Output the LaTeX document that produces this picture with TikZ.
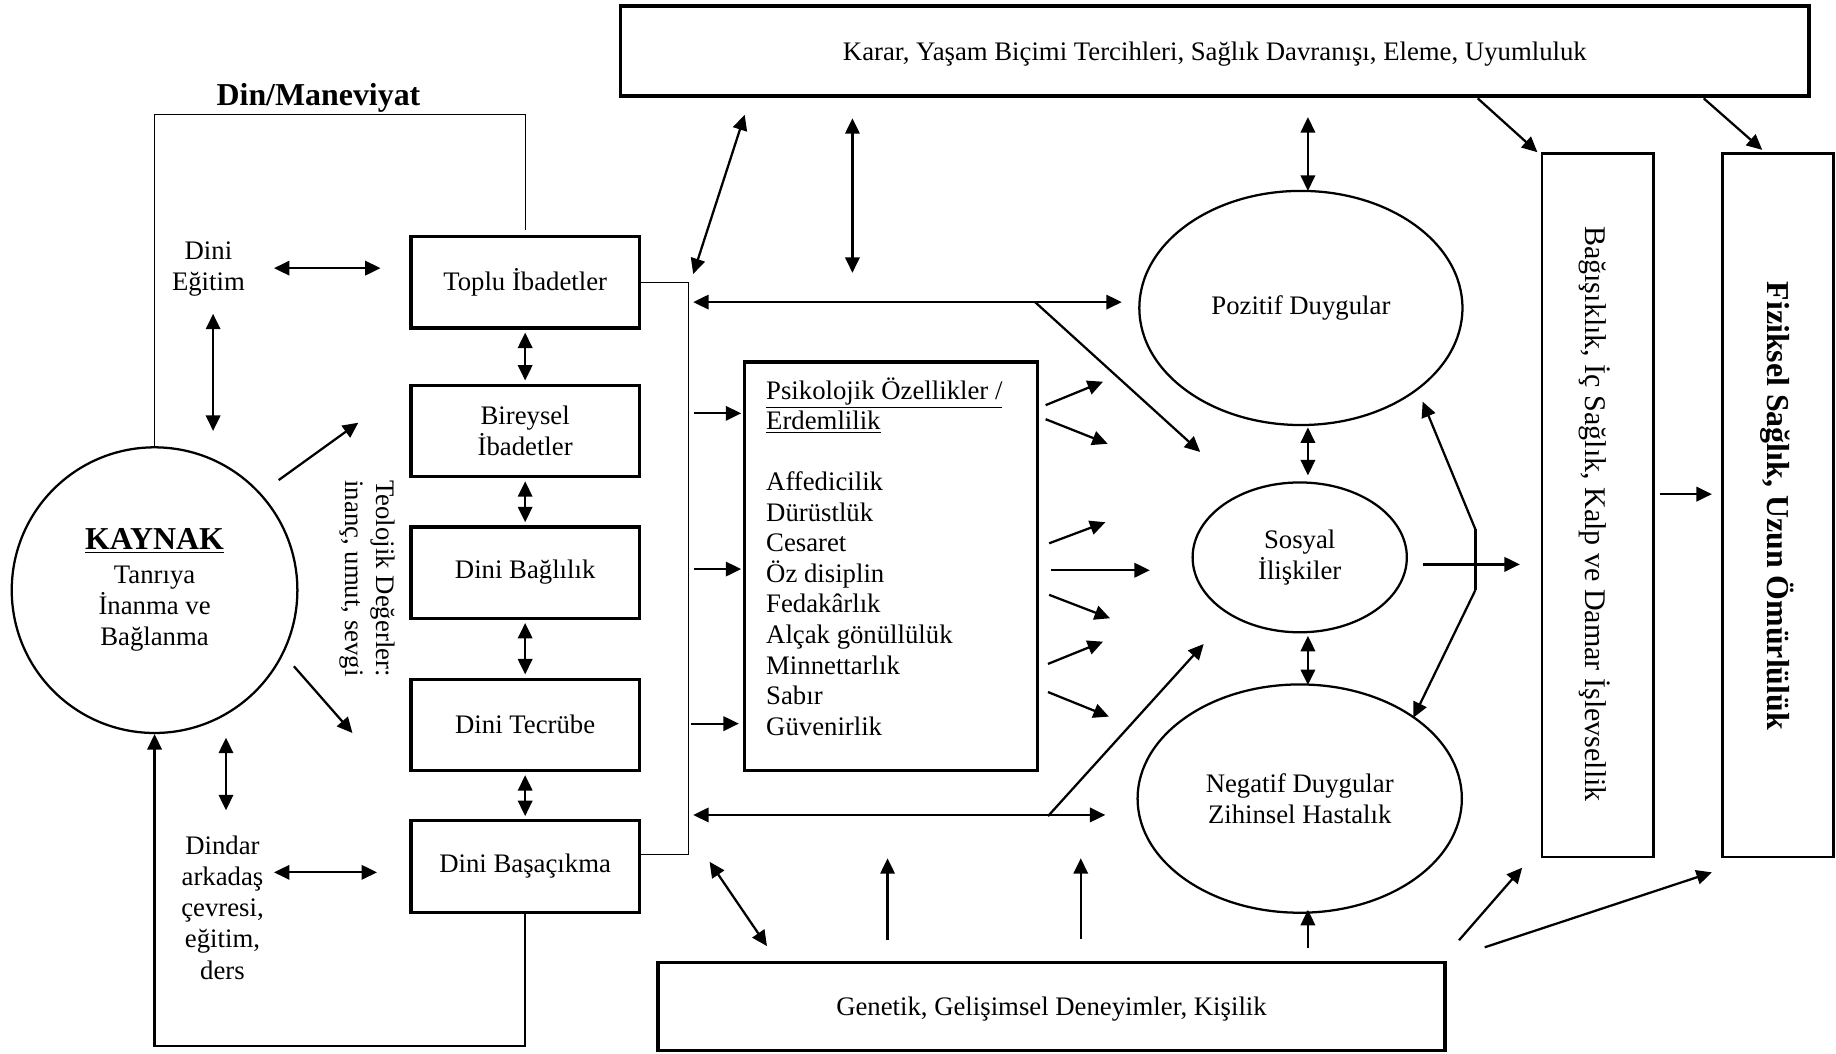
\documentclass[tikz,border=0pt]{standalone}
\usepackage{fontspec}
\setmainfont{Liberation Serif}
\usetikzlibrary{shapes.geometric,arrows.meta}
\begin{document}
\begin{tikzpicture}[x=0.02cm,y=-0.02cm, font=\fontsize{13}{15.2}\selectfont,
 bigbox/.style={draw, line width=1.6pt, rectangle, inner sep=0pt},
 tallbox/.style={draw, line width=1.2pt, rectangle, inner sep=0pt, minimum width=1.9cm, minimum height=12.02cm},
 relbox/.style={bigbox, minimum width=3.9cm, minimum height=1.56cm, align=center},
 oval/.style={draw, ellipse, line width=1.1pt, inner sep=0pt, align=center},
 conn/.style={line width=1.1pt},
 arr/.style={conn, -{Triangle[length=7.5pt,width=7pt]}},
 darr/.style={conn, {Triangle[length=7.5pt,width=7pt]}-{Triangle[length=7.5pt,width=7pt]}},
 thinline/.style={line width=0.6pt},
 lbl/.style={align=center, inner sep=0pt}
]
\useasboundingbox (0,0) rectangle (1568,900);

% ---- nodes
\node[bigbox, text depth=0pt, minimum width=20.3cm, minimum height=1.54cm] (karar) at (1037.5,43.5) {Karar, Yaşam Biçimi Tercihleri, Sağlık Davranışı, Eleme, Uyumluluk};

\node[relbox] (toplu) at (448.5,241) {Toplu İbadetler};
\node[relbox] (bireysel) at (448.5,368) {Bireysel\\İbadetler};
\node[relbox] (baglilik) at (448.5,489) {Dini Bağlılık};
\node[relbox] (tecrube) at (448.5,619) {Dini Tecrübe};
\node[relbox] (basa) at (448.5,740) {Dini Başaçıkma};

\node[draw, circle, line width=1.1pt, minimum size=4.88cm, inner sep=0pt, align=center] (kaynak) at (132,504)
  {\textbf{\fontsize{15.5}{17}\selectfont\underline{KAYNAK}}\\[1pt] Tanrıya\\İnanma ve\\Bağlanma};

\node[bigbox, minimum width=5cm, minimum height=6.98cm] (psiko) at (761,483.5) {};
\node[align=left, anchor=north west, inner sep=0pt, font=\fontsize{13}{14.85}\selectfont] (psikotxt) at (654,322)
  {\underline{Psikolojik Özellikler /}\\\underline{Erdemlilik}\\[14.85pt] Affedicilik\\Dürüstlük\\Cesaret\\Öz disiplin\\Fedakârlık\\Alçak gönüllülük\\Minnettarlık\\Sabır\\Güvenirlik};

\node[bigbox, text depth=0pt, minimum width=13.44cm, minimum height=1.5cm] (genetik) at (898,859.5) {Genetik, Gelişimsel Deneyimler, Kişilik};

\node[tallbox] (bagisik) at (1364.5,431.5) {};
\node[rotate=-90, inner sep=0pt, font=\fontsize{14.6}{17}\selectfont] (bagisiktxt) at (1362,439) {Bağışıklık, İç Sağlık, Kalp ve Damar İşlevsellik};
\node[tallbox] (fiziksel) at (1518.5,431.5) {};
\node[rotate=-90, inner sep=0pt, font=\fontsize{15.5}{18}\selectfont\bfseries] (fiziktxt) at (1518,432) {Fiziksel Sağlık, Uzun Ömürlülük};

\node[oval, minimum width=5.52cm, minimum height=4cm] (pozitif) at (1111,263) {Pozitif Duygular};
\node[oval, minimum width=3.66cm, minimum height=2.56cm] (sosyal) at (1110,476) {Sosyal\\İlişkiler};
\node[oval, minimum width=5.54cm, minimum height=3.9cm] (negatif) at (1110,682) {Negatif Duygular\\Zihinsel Hastalık};

\node[font=\fontsize{15.5}{18}\selectfont\bfseries, inner sep=0pt] (din) at (272,84) {Din/Maneviyat};
\node[lbl] (egitim) at (178,230) {Dini\\Eğitim};
\node[lbl] (dindar) at (190,775) {Dindar\\arkadaş\\çevresi,\\eğitim,\\ders};
\node[lbl, rotate=-90] (teoloji) at (314,494) {Teolojik Değerler:\\inanç, umut, sevgi};

% ---- coordinates
\coordinate (dinL) at (132,98);
\coordinate (dinR) at (449,98);
\coordinate (dinE) at (449,196);
\coordinate (fbL) at (132,893);
\coordinate (e1) at (234,229); \coordinate (e2) at (325,229);
\coordinate (e3) at (182,268); \coordinate (e4) at (182,368);
\coordinate (k1) at (238,410); \coordinate (k2) at (306,361);
\coordinate (k3) at (251,569); \coordinate (k4) at (301,626);
\coordinate (d1) at (193,630); \coordinate (d2) at (193,692);
\coordinate (d3) at (234,745); \coordinate (d4) at (322,745);
\coordinate (rb1) at (588,241); \coordinate (rb2) at (588,730);
\coordinate (pa1) at (593,353); \coordinate (pb1) at (633,353);
\coordinate (pa2) at (593,486); \coordinate (pb2) at (633,486);
\coordinate (pa3) at (590,618); \coordinate (pb3) at (631,618);
\coordinate (q1a) at (893,346); \coordinate (q1b) at (942,326);
\coordinate (q2a) at (893,358); \coordinate (q2b) at (946,379);
\coordinate (q3a) at (896,464); \coordinate (q3b) at (944,446);
\coordinate (q4a) at (898,487); \coordinate (q4b) at (982,487);
\coordinate (q5a) at (896,508); \coordinate (q5b) at (948,528);
\coordinate (q6a) at (895,567); \coordinate (q6b) at (942,548);
\coordinate (q7a) at (895,591); \coordinate (q7b) at (947,612);
\coordinate (h1) at (592,258); \coordinate (h2) at (958,258);
\coordinate (h3) at (884,258); \coordinate (h4) at (1025,386);
\coordinate (l1) at (592,696); \coordinate (l2) at (944,696);
\coordinate (l3) at (895,697); \coordinate (l4) at (1028,550);
\coordinate (t1a) at (592,234); \coordinate (t1b) at (636,98);
\coordinate (t2a) at (728,233); \coordinate (t2b) at (728,101);
\coordinate (t3a) at (1117,163); \coordinate (t3b) at (1117,100);
\coordinate (s1a) at (1117,365); \coordinate (s1b) at (1117,406);
\coordinate (s2a) at (1117,543); \coordinate (s2b) at (1117,585);
\coordinate (g1a) at (655,808); \coordinate (g1b) at (606,736);
\coordinate (g2a) at (758,803); \coordinate (g2b) at (758,733);
\coordinate (g3a) at (923,802); \coordinate (g3b) at (923,733);
\coordinate (g4a) at (1117,810); \coordinate (g4b) at (1117,777);
\coordinate (sr1) at (1215,482); \coordinate (sr2) at (1298,482);
\coordinate (bt) at (1260,452); \coordinate (bb) at (1260,504);
\coordinate (bp) at (1215,343); \coordinate (bn) at (1207,613);
\coordinate (c1a) at (1262,84); \coordinate (c1b) at (1313,130);
\coordinate (c2a) at (1455,84); \coordinate (c2b) at (1505,128);
\coordinate (m1a) at (1418,422); \coordinate (m1b) at (1462,422);
\coordinate (n1a) at (1246,803); \coordinate (n1b) at (1300,741);
\coordinate (n2a) at (1268,809); \coordinate (n2b) at (1462,745);

% ---- connectors
\draw[thinline] (kaynak.north) -- (dinL) -- (dinR) -- (dinE);
\draw[arr] (basa.south) -- (basa.south |- fbL) -- (fbL) -- (kaynak.south);

\draw[darr] (e1) -- (e2);
\draw[darr] (e3) -- (e4);
\draw[arr] (k1) -- (k2);
\draw[arr] (k3) -- (k4);
\draw[darr] (d1) -- (d2);
\draw[darr] (d3) -- (d4);

\draw[darr, shorten >=1.5pt, shorten <=1.5pt] (toplu.south) -- (bireysel.north);
\draw[darr, shorten >=1.5pt, shorten <=1.5pt] (bireysel.south) -- (baglilik.north);
\draw[darr, shorten >=1.5pt, shorten <=1.5pt] (baglilik.south) -- (tecrube.north);
\draw[darr, shorten >=1.5pt, shorten <=1.5pt] (tecrube.south) -- (basa.north);

\draw[thinline] (toplu.east) -- (rb1) -- (rb2) -- (rb2 -| basa.east);
\draw[arr] (pa1) -- (pb1);
\draw[arr] (pa2) -- (pb2);
\draw[arr] (pa3) -- (pb3);

\draw[arr] (q1a) -- (q1b);
\draw[arr] (q2a) -- (q2b);
\draw[arr] (q3a) -- (q3b);
\draw[arr] (q4a) -- (q4b);
\draw[arr] (q5a) -- (q5b);
\draw[arr] (q6a) -- (q6b);
\draw[arr] (q7a) -- (q7b);

\draw[darr] (h1) -- (h2);
\draw[arr] (h3) -- (h4);
\draw[darr] (l1) -- (l2);
\draw[arr] (l3) -- (l4);

\draw[darr] (t1a) -- (t1b);
\draw[darr] (t2a) -- (t2b);
\draw[darr] (t3a) -- (t3b);
\draw[darr] (s1a) -- (s1b);
\draw[darr] (s2a) -- (s2b);

\draw[darr] (g1a) -- (g1b);
\draw[arr] (g2a) -- (g2b);
\draw[arr] (g3a) -- (g3b);
\draw[arr] (g4a) -- (g4b);

\draw[arr] (sr1) -- (sr2);
\draw[conn] (bt) -- (bb);
\draw[arr] (bt) -- (bp);
\draw[arr] (bb) -- (bn);

\draw[arr] (c1a) -- (c1b);
\draw[arr] (c2a) -- (c2b);
\draw[arr] (m1a) -- (m1b);
\draw[arr] (n1a) -- (n1b);
\draw[arr] (n2a) -- (n2b);
\end{tikzpicture}
\end{document}
